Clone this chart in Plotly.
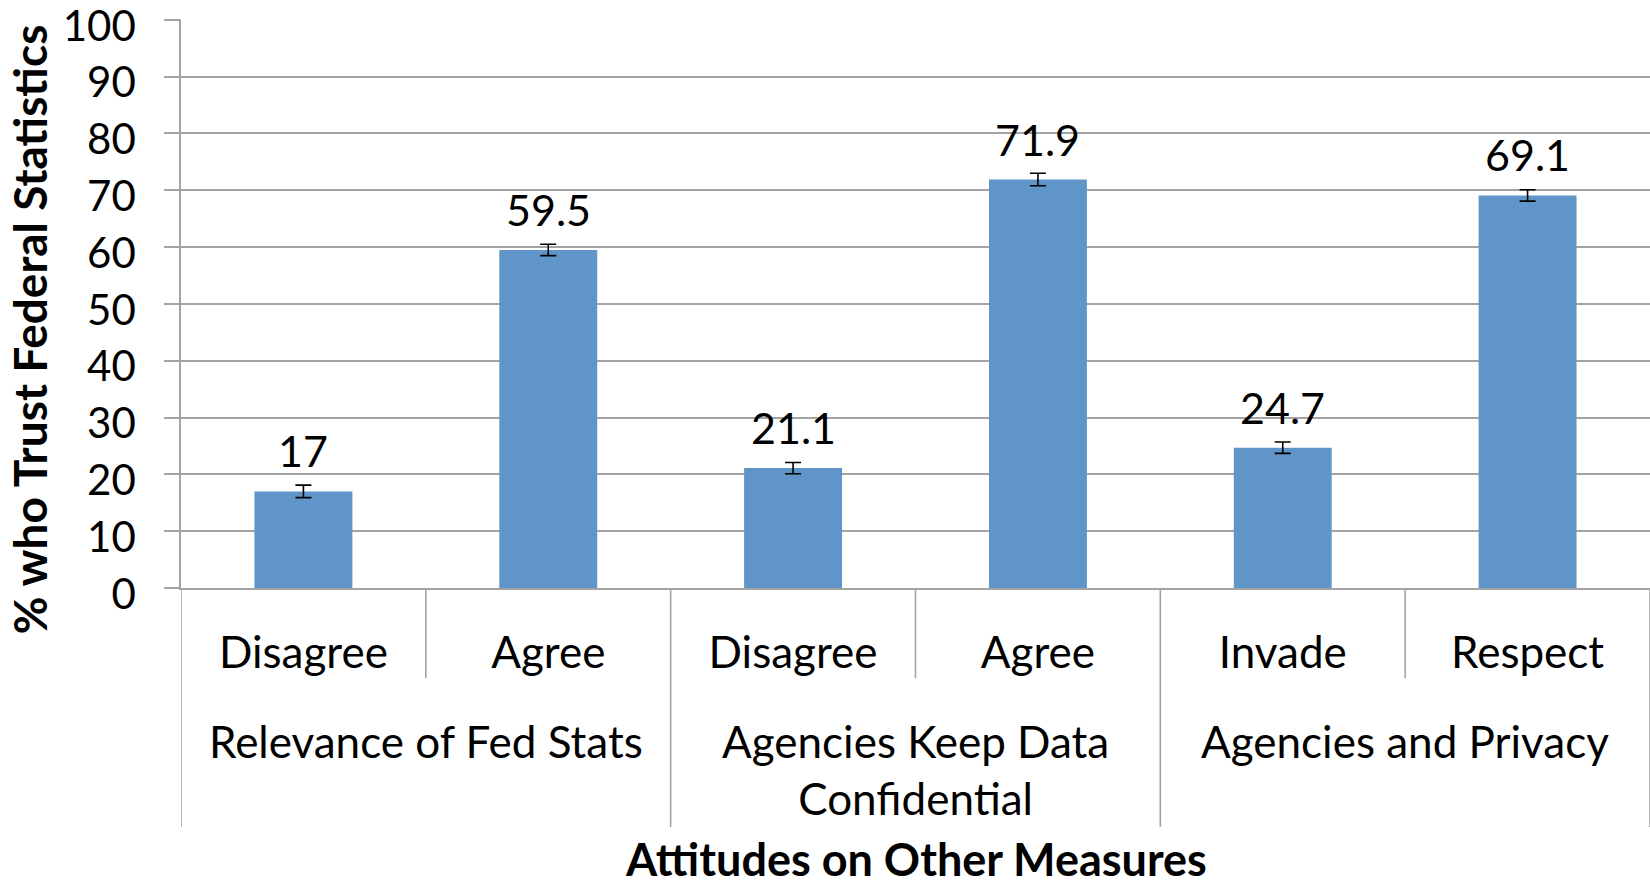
import plotly.graph_objects as go

sub_labels = ["Disagree", "Agree", "Disagree", "Agree", "Invade", "Respect"]
group_labels = ["Relevance of Fed Stats", "Agencies Keep Data<br>Confidential", "Agencies and Privacy"]
values = [17, 59.5, 21.1, 71.9, 24.7, 69.1]
errors = [1.1, 1.0, 1.0, 1.1, 1.0, 1.0]
value_text = ["17", "59.5", "21.1", "71.9", "24.7", "69.1"]
y_ticks = [0, 10, 20, 30, 40, 50, 60, 70, 80, 90, 100]

FONT = "Lato"
GRID = "#A3A3A3"
BAR = "#6095C9"
LW = 1.6

xs = list(range(len(values)))

fig = go.Figure()
fig.add_trace(go.Bar(
    x=xs, y=values, width=0.4,
    marker=dict(color=BAR, line=dict(width=0)),
    error_y=dict(type="data", array=errors, visible=True, color="black", thickness=1.6, width=8),
    hoverinfo="skip", showlegend=False,
))

annotations = []
for x, v, t in zip(xs, values, value_text):
    annotations.append(dict(x=x, y=v, xref="x", yref="y", text=t, showarrow=False,
                            yanchor="bottom", yshift=13, font=dict(family=FONT, size=43, color="black")))

# group labels centered between sub-categories
for gi, g in enumerate(group_labels):
    annotations.append(dict(x=2 * gi + 0.5, y=-0.2192, xref="x", yref="paper", text=g, showarrow=False,
                            yanchor="top", font=dict(family=FONT, size=44, color="black")))

annotations.append(dict(x=0.5, y=-0.477, xref="paper", yref="paper", text="<b>Attitudes on Other Measures</b>",
                        showarrow=False, yanchor="middle", xanchor="center",
                        font=dict(family=FONT, size=45, color="black")))
annotations.append(dict(x=-0.1030, y=0.454, xref="paper", yref="paper", text="<b>% who Trust Federal Statistics</b>",
                        showarrow=False, textangle=-90, xanchor="center", yanchor="middle",
                        font=dict(family=FONT, size=46, color="black")))

shapes = []
# sub-category separators
for sx in [0.5, 2.5, 4.5]:
    shapes.append(dict(type="line", xref="x", yref="paper", x0=sx, x1=sx, y0=0, y1=-0.1582,
                       line=dict(color=GRID, width=LW)))
# group separators
for gx in [-0.5, 1.5, 3.5, 5.5]:
    shapes.append(dict(type="line", xref="x", yref="paper", x0=gx, x1=gx, y0=0, y1=-0.4200,
                       line=dict(color=GRID, width=LW)))

fig.update_layout(
    width=1650, height=885,
    margin=dict(l=181, r=0, t=19, b=297, pad=0, autoexpand=False),
    paper_bgcolor="white", plot_bgcolor="white",
    font=dict(family=FONT, size=42, color="black"),
    xaxis=dict(
        range=[-0.5, 5.5], tickmode="array", tickvals=xs, ticktext=sub_labels,
        showgrid=False, zeroline=False, showline=True, linecolor=GRID, linewidth=LW,
        ticks="", ticklabelstandoff=25, tickfont=dict(family=FONT, size=44, color="black"),
        automargin=False, fixedrange=True,
    ),
    yaxis=dict(
        range=[0, 100.15], tickmode="array", tickvals=y_ticks,
        showgrid=True, gridcolor=GRID, gridwidth=LW, zeroline=False,
        showline=True, linecolor=GRID, linewidth=LW,
        ticks="outside", ticklen=15, tickcolor=GRID, tickwidth=LW,
        ticklabelstandoff=20, ticklabelshift=6, ticklabeloverflow="allow",
        tickfont=dict(family=FONT, size=42, color="black"),
        automargin=False, fixedrange=True,
    ),
    annotations=annotations,
    shapes=shapes,
)

fig.write_html("out.html", config={"displayModeBar": False},
               post_script="document.body.style.margin='0';")
